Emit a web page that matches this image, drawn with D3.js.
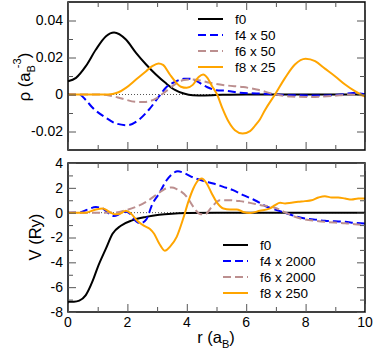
<!DOCTYPE html>
<html>
<head>
<meta charset="utf-8">
<script src="https://cdn.jsdelivr.net/npm/d3@7"></script>
<style>
  body { margin: 0; background: #fff; }
  text { font-family: "Liberation Sans", Arial, sans-serif; fill: #000; }
</style>
</head>
<body>
<script>
// r grid is read per curve
var rhoF0 = [[0,0.0072],[0.27,0.009],[0.6,0.0153],[0.94,0.0243],[1.28,0.0315],[1.55,0.0335],[1.95,0.0297],[2.29,0.0225],[2.63,0.0162],[2.96,0.0108],[3.28,0.0063],[3.6,0.0025],[3.9,0.0005],[4.2,-0.0004],[4.6,-0.0005],[5.2,-0.0002],[6,0],[10,0]];
var rhoF4 = [[0,0],[0.38,0],[0.6,-0.003],[0.83,-0.0072],[1.28,-0.0126],[1.62,-0.0157],[2.0,-0.0166],[2.4,-0.0135],[2.73,-0.0081],[3.07,-0.0009],[3.3,0.0038],[3.6,0.0068],[3.9,0.0085],[4.1,0.0085],[4.33,0.0072],[4.67,0.0041],[5.0,0.0023],[5.34,0.002],[5.79,0.0009],[6.46,0.0005],[7,0],[7.5,-0.0004],[8.5,-0.0005],[9.2,0],[9.6,0.0008],[10,0.0002]];
var rhoF6 = [[0,0],[1.0,0],[1.39,-0.0005],[1.84,-0.0023],[2.29,-0.004],[2.57,-0.0041],[2.96,-0.0022],[3.3,0.0018],[3.6,0.0055],[3.9,0.0078],[4.1,0.0081],[4.44,0.0076],[4.78,0.0063],[5.34,0.0049],[5.9,0.004],[6.35,0.0027],[7.0,0],[7.5,-0.0011],[8.2,-0.0013],[8.9,-0.0008],[9.5,0],[10,-0.0005]];
var rhoF8 = [[0,0],[1.2,0],[1.5,0.0003],[1.7,0.0012],[1.95,0.0036],[2.29,0.0081],[2.63,0.0126],[2.85,0.0155],[3.05,0.0168],[3.2,0.016],[3.43,0.0108],[3.6,0.0072],[3.8,0.0042],[4.0,0.0036],[4.2,0.0052],[4.4,0.0095],[4.55,0.0108],[4.7,0.0088],[4.85,0.0045],[5.02,0],[5.2,-0.0075],[5.4,-0.0145],[5.62,-0.0193],[5.88,-0.0211],[6.13,-0.0198],[6.3,-0.0168],[6.46,-0.0135],[6.63,-0.0085],[6.97,0],[7.31,0.009],[7.64,0.0162],[8.0,0.0193],[8.32,0.018],[8.65,0.014],[8.99,0.0099],[9.33,0.0054],[9.66,0.0018],[10,-0.0012]];

var vF0 = [[0,-7.18],[0.2,-7.17],[0.38,-7.08],[0.6,-6.64],[0.83,-5.5],[1.0,-4.4],[1.28,-2.88],[1.5,-1.7],[1.78,-1.05],[2.16,-0.62],[2.63,-0.34],[3.07,-0.17],[3.5,-0.08],[4.0,-0.03],[5,0],[10,0]];
var vF4 = [[0,0],[0.4,0.02],[0.6,0.2],[0.94,0.45],[1.17,0.34],[1.39,-0.1],[1.55,-0.27],[1.75,-0.1],[1.95,0.08],[2.1,-0.1],[2.29,-0.69],[2.44,-0.86],[2.63,-0.56],[2.85,0.74],[3.07,1.55],[3.3,2.55],[3.5,3.1],[3.7,3.34],[3.88,3.22],[4.22,2.83],[4.56,2.56],[4.89,2.35],[5.23,2.08],[5.56,1.81],[5.9,1.41],[6.24,1.06],[6.46,0.79],[6.63,0.55],[6.97,0.26],[7.31,-0.01],[7.64,-0.28],[7.98,-0.47],[8.32,-0.56],[8.65,-0.66],[8.99,-0.7],[9.33,-0.74],[9.66,-0.82],[10,-0.88]];
var vF6 = [[0,0],[1.2,0],[1.62,0.02],[1.95,0.2],[2.29,0.47],[2.63,0.87],[2.96,1.41],[3.3,1.95],[3.5,2.03],[3.66,1.9],[4.0,1.27],[4.22,0.47],[4.44,-0.1],[4.61,-0.14],[4.82,0.4],[5.12,1.0],[5.46,1.0],[5.79,0.93],[6.13,0.79],[6.46,0.62],[6.97,0.4],[7.31,0.02],[7.64,-0.33],[7.98,-0.55],[8.32,-0.66],[8.65,-0.74],[8.99,-0.8],[9.33,-0.85],[9.66,-0.93],[10,-1.01]];
var vF8 = [[0,0],[0.6,0],[0.94,0.26],[1.17,0.34],[1.34,0.15],[1.56,-0.12],[1.72,-0.1],[1.95,0.15],[2.11,-0.05],[2.35,-0.7],[2.55,-1.05],[2.75,-1.3],[2.9,-1.7],[3.07,-2.48],[3.26,-3.07],[3.43,-2.75],[3.66,-1.95],[3.88,-0.47],[4.05,0.87],[4.22,1.95],[4.39,2.62],[4.5,2.75],[4.67,2.35],[4.84,1.55],[5.0,0.87],[5.23,0.34],[5.46,0.26],[5.68,0.26],[5.9,0.06],[6.13,-0.02],[6.46,0.15],[6.8,0.34],[6.97,0.6],[7.14,0.8],[7.31,0.74],[7.52,0.8],[7.75,0.87],[7.98,0.93],[8.2,1.0],[8.43,1.22],[8.65,1.33],[8.88,1.22],[9.1,1.22],[9.33,1.14],[9.55,1.06],[9.77,1.14],[10,1.14]];

var topLabels = ["f0", "f4 x 50", "f6 x 50", "f8 x 25"];
var botLabels = ["f0", "f4 x 2000", "f6 x 2000", "f8 x 250"];
var colors = ["#000000", "#0000ff", "#bc8f8f", "#ffa500"];
var dashes = [null, "8,4", "8,4", null];

var xTicks = [0, 2, 4, 6, 8, 10];
var xMinor = [1, 3, 5, 7, 9];
var rhoTicks = [-0.02, 0, 0.02, 0.04];
var rhoMinor = [-0.01, 0.01, 0.03];
var vTicks = [-8, -6, -4, -2, 0, 2, 4];
var vMinor = [-7, -5, -3, -1, 1, 3];

var w = 374, h = 353;
var left = 68, right = 365;

var svg = d3.select("body").append("svg")
    .attr("width", w)
    .attr("height", h);

var x = d3.scaleLinear().domain([0, 10]).range([left, right]);
var yTop = d3.scaleLinear().domain([-0.03, 0.05]).range([150, 2]);
var yBot = d3.scaleLinear().domain([-8, 4]).range([312, 163]);

function fmtRho(d) { return d === 0 ? "0" : d3.format(".2f")(d).replace("\u2212", "-"); }
function fmtV(d) { return String(d); }

function panel(y, ticks, minor, fmt, series, labels, legX, legY, showX) {
  var y0 = y.range()[0], y1 = y.range()[1];

  // zero line, dotted
  svg.append("line")
      .attr("x1", x(0)).attr("x2", x(10))
      .attr("y1", y(0)).attr("y2", y(0))
      .attr("stroke", "#555").attr("stroke-width", 1)
      .attr("stroke-dasharray", "1,2");

  var line = d3.line()
      .x(function(d) { return x(d[0]); })
      .y(function(d) { return y(d[1]); })
      .curve(d3.curveMonotoneX);

  var g = svg.append("g");
  // draw the first series last? reference draws f0 under others in top, on top in bottom
  series.forEach(function(s, i) {
    g.append("path")
        .datum(s)
        .attr("fill", "none")
        .attr("stroke", colors[i])
        .attr("stroke-width", 2)
        .attr("stroke-dasharray", dashes[i])
        .attr("d", line);
  });

  // frame
  svg.append("rect")
      .attr("x", left).attr("y", y1)
      .attr("width", right - left).attr("height", y0 - y1)
      .attr("fill", "none").attr("stroke", "#000").attr("stroke-width", 1.5);

  // inward ticks on all four sides
  svg.append("g").attr("transform", "translate(" + left + ",0)")
      .call(d3.axisRight(y).tickValues(ticks).tickSize(8).tickFormat(""))
      .call(function(a) { a.select(".domain").remove(); a.selectAll("line").attr("stroke", "#555"); });
  svg.append("g").attr("transform", "translate(" + left + ",0)")
      .call(d3.axisRight(y).tickValues(minor).tickSize(5).tickFormat(""))
      .call(function(a) { a.select(".domain").remove(); a.selectAll("line").attr("stroke", "#555"); });
  svg.append("g").attr("transform", "translate(" + right + ",0)")
      .call(d3.axisLeft(y).tickValues(ticks).tickSize(8).tickFormat(""))
      .call(function(a) { a.select(".domain").remove(); a.selectAll("line").attr("stroke", "#555"); });
  svg.append("g").attr("transform", "translate(" + right + ",0)")
      .call(d3.axisLeft(y).tickValues(minor).tickSize(5).tickFormat(""))
      .call(function(a) { a.select(".domain").remove(); a.selectAll("line").attr("stroke", "#555"); });
  svg.append("g").attr("transform", "translate(0," + y0 + ")")
      .call(d3.axisTop(x).tickValues(xTicks).tickSize(8).tickFormat(""))
      .call(function(a) { a.select(".domain").remove(); a.selectAll("line").attr("stroke", "#555"); });
  svg.append("g").attr("transform", "translate(0," + y0 + ")")
      .call(d3.axisTop(x).tickValues(xMinor).tickSize(5).tickFormat(""))
      .call(function(a) { a.select(".domain").remove(); a.selectAll("line").attr("stroke", "#555"); });
  svg.append("g").attr("transform", "translate(0," + y1 + ")")
      .call(d3.axisBottom(x).tickValues(xTicks).tickSize(8).tickFormat(""))
      .call(function(a) { a.select(".domain").remove(); a.selectAll("line").attr("stroke", "#555"); });
  svg.append("g").attr("transform", "translate(0," + y1 + ")")
      .call(d3.axisBottom(x).tickValues(xMinor).tickSize(5).tickFormat(""))
      .call(function(a) { a.select(".domain").remove(); a.selectAll("line").attr("stroke", "#555"); });

  // y tick labels
  svg.selectAll(null)
      .data(ticks)
      .enter().append("text")
      .attr("x", left - 5)
      .attr("y", function(d) { return y(d); })
      .attr("dy", "0.35em")
      .attr("text-anchor", "end")
      .style("font-size", "14px")
      .text(fmt);

  if (showX) {
    svg.selectAll(null)
        .data(xTicks)
        .enter().append("text")
        .attr("x", function(d) { return x(d); })
        .attr("y", y0 + 15)
        .attr("text-anchor", "middle")
        .style("font-size", "14px")
        .text(function(d) { return d; });
  }

  // legend
  labels.forEach(function(t, i) {
    var ly = legY + i * 16;
    svg.append("line")
        .attr("x1", legX).attr("x2", legX + 25)
        .attr("y1", ly).attr("y2", ly)
        .attr("stroke", colors[i]).attr("stroke-width", 2)
        .attr("stroke-dasharray", dashes[i]);
    svg.append("text")
        .attr("x", legX + 37).attr("y", ly)
        .attr("dy", "0.35em")
        .style("font-size", "13.5px")
        .text(t);
  });
}

panel(yTop, rhoTicks, rhoMinor, fmtRho, [rhoF0, rhoF4, rhoF6, rhoF8], topLabels, 198, 19, false);
panel(yBot, vTicks, vMinor, fmtV, [vF0, vF4, vF6, vF8], botLabels, 223, 245, true);

// axis titles
var t1 = svg.append("text")
    .attr("transform", "translate(30,77) rotate(-90)")
    .attr("text-anchor", "middle")
    .style("font-size", "16.5px");
t1.append("tspan").text("\u03c1 (a");
t1.append("tspan").attr("dy", 5).style("font-size", "11px").text("B");
t1.append("tspan").attr("dy", -14).attr("dx", -3).style("font-size", "11px").text("-3");
t1.append("tspan").attr("dy", 9).text(")");

svg.append("text")
    .attr("transform", "translate(41,237) rotate(-90)")
    .attr("text-anchor", "middle")
    .style("font-size", "16.5px")
    .text("V (Ry)");

var t3 = svg.append("text")
    .attr("x", 216).attr("y", 343)
    .attr("text-anchor", "middle")
    .style("font-size", "16.5px");
t3.append("tspan").text("r (a");
t3.append("tspan").attr("dy", 5).style("font-size", "11px").text("B");
t3.append("tspan").attr("dy", -5).text(")");
</script>
</body>
</html>
